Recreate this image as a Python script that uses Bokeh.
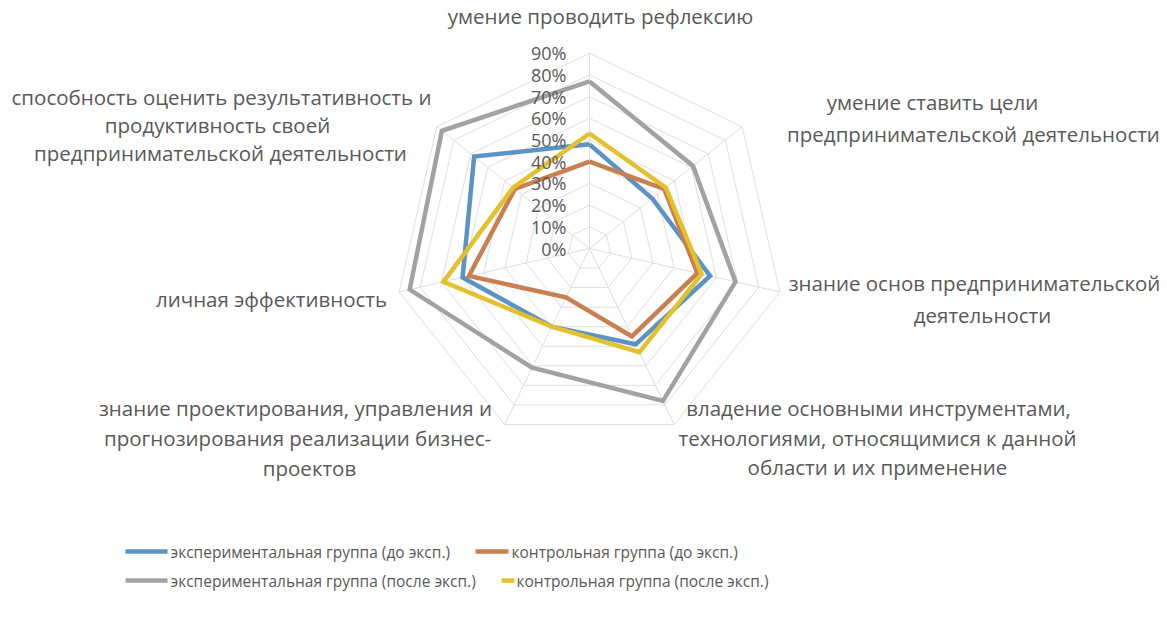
import math
from bokeh.plotting import figure
from bokeh.models import Range1d
from bokeh.core.properties import value
from bokeh.embed import file_html
from bokeh.resources import INLINE

# ---- data ----
categories = [
    ["умение проводить рефлексию"],
    ["умение ставить цели", "предпринимательской деятельности"],
    ["знание основ предпринимательской", "деятельности"],
    ["владение основными инструментами,", "технологиями, относящимися к данной", "области и их применение"],
    ["знание проектирования, управления и", "прогнозирования реализации бизнес-", "проектов"],
    ["личная эффективность"],
    ["способность оценить результативность и", "продуктивность своей", "предпринимательской деятельности"],
]
series_names = [
    "экспериментальная группа (до эксп.)",
    "контрольная группа (до эксп.)",
    "экспериментальная группа (после эксп.)",
    "контрольная группа (после эксп.)",
]
exp_before = [48, 37, 57, 49, 40, 60, 68]
ctrl_before = [40, 44, 51, 45, 25, 57, 44]
exp_after = [77, 61, 69, 78, 61, 85, 87]
ctrl_after = [53, 45, 53, 53, 40, 69, 45]
tick_values = [0, 10, 20, 30, 40, 50, 60, 70, 80, 90]
tick_labels = ["0%", "10%", "20%", "30%", "40%", "50%", "60%", "70%", "80%", "90%"]

# ---- layout / style ----
W, H = 1166, 630
CX, CY = 589, 248
SCALE = 2.17  # px per percent
colors = ["#5b93c4", "#c97f4f", "#a2a2a2", "#e2c12c"]
text_color = "#595959"
font = value("Open Sans")

n = len(categories)
angles = [2 * math.pi * i / n for i in range(n)]


def pt(v, a):
    return CX + v * SCALE * math.sin(a), CY - v * SCALE * math.cos(a)


p = figure(width=W, height=H, output_backend="svg", toolbar_location=None,
           x_range=Range1d(0, W), y_range=Range1d(H, 0),
           min_border=0)
p.axis.visible = False
p.grid.visible = False
p.outline_line_color = None
p.background_fill_color = "white"
p.border_fill_color = "white"

# grid rings
for t in tick_values[1:]:
    xs = [pt(t, a)[0] for a in angles] + [pt(t, angles[0])[0]]
    ys = [pt(t, a)[1] for a in angles] + [pt(t, angles[0])[1]]
    p.line(xs, ys, line_color="#dedede", line_width=1)
# spokes
mx = tick_values[-1]
p.segment(x0=[CX] * n, y0=[CY] * n,
          x1=[pt(mx, a)[0] for a in angles], y1=[pt(mx, a)[1] for a in angles],
          line_color="#dedede", line_width=1)

# series
for vals, c in zip([exp_before, ctrl_before, exp_after, ctrl_after], colors):
    xs = [pt(v, a)[0] for v, a in zip(vals, angles)]
    ys = [pt(v, a)[1] for v, a in zip(vals, angles)]
    xs.append(xs[0]); ys.append(ys[0])
    p.line(xs, ys, line_color=c, line_width=4.5, line_join="miter")

# tick labels
p.text(x=[566] * len(tick_values), y=[CY - t * SCALE for t in tick_values],
       text=tick_labels, text_align="right", text_baseline="middle",
       text_font=font, text_font_size="18px", text_color=text_color)

# category labels (positions per line)
label_pos = [
    [(600, 15)],
    [(932, 101), (973, 133)],
    [(974, 282), (982, 314)],
    [(878, 407), (877, 437), (877, 466)],
    [(295, 407), (297, 437), (309, 467)],
    [(271, 298)],
    [(221, 96), (217, 124), (220, 152)],
]
lx, ly, lt = [], [], []
for lines, poss in zip(categories, label_pos):
    for s, (x, y) in zip(lines, poss):
        lx.append(x); ly.append(y); lt.append(s)
p.text(x=lx, y=ly, text=lt, text_align="center", text_baseline="middle",
       text_font=font, text_font_size="20.5px", text_color=text_color)

# legend
leg_line = [(125, 167, 551), (475, 508, 551), (125, 167, 580), (501, 514, 580)]
leg_text = [(170, 551), (511, 551), (170, 580), (516, 580)]
for (x0, x1, y), c in zip(leg_line, colors):
    p.segment(x0=[x0], y0=[y], x1=[x1], y1=[y], line_color=c, line_width=4.5)
p.text(x=[q[0] for q in leg_text], y=[q[1] for q in leg_text], text=series_names,
       text_align="left", text_baseline="middle",
       text_font=font, text_font_size="15.5px", text_color=text_color)

open("out.html", "w").write(file_html(p, INLINE))
